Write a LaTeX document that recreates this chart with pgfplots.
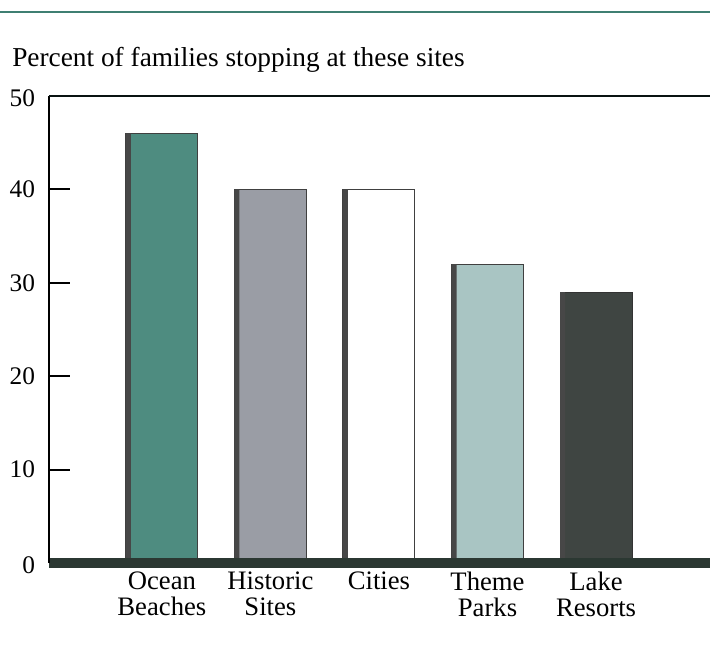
\documentclass[border=0pt]{standalone}
\usepackage{fontspec}
\setmainfont{Liberation Serif}
\usepackage{pgfplots}
\pgfplotsset{compat=1.18}
\definecolor{topteal}{HTML}{3F7F72}
\definecolor{ocean}{HTML}{4E8C80}
\definecolor{historic}{HTML}{9A9DA5}
\definecolor{cities}{HTML}{FFFFFF}
\definecolor{theme}{HTML}{A9C5C3}
\definecolor{lake}{HTML}{3F4542}
\definecolor{band}{HTML}{2B3832}
\begin{document}
\begin{tikzpicture}
\useasboundingbox (0,0) rectangle (532.5pt,-483.75pt);
\draw[topteal, line width=1.6pt] (0,-9pt) -- (532.5pt,-9pt);
\node[anchor=west, inner sep=0pt, font=\fontsize{20.5}{22}\selectfont] at (9pt,-45pt) {Percent of families stopping at these sites};
\begin{axis}[
  at={(36.75pt,-422.25pt)}, anchor=south west,
  scale only axis, width=495.75pt, height=350.25pt,
  xmin=-1.04, xmax=5.05, ymin=0, ymax=50,
  clip=false,
  axis line style={draw=none},
  ytick={10,20,30,40}, extra y ticks={0,50},
  extra y tick style={major tick length=0pt, yticklabel style={yshift=-2pt}},
  ytick pos=left, xtick pos=bottom,
  tick align=inside,
  y tick style={black, line width=1.5pt},
  major tick length=15.75pt,
  xtick={0,1,2,3,4},
  xticklabels={{Ocean\\Beaches},{Historic\\Sites},{Cities},{Theme\\Parks},{Lake\\Resorts}},
  x tick style={draw=none},
  xticklabel style={align=center, font=\fontsize{20}{19.5}\selectfont, yshift=-3pt, anchor=north},
  yticklabel style={font=\fontsize{19}{20}\selectfont, xshift=-7pt},
  /pgf/number format/assume math mode=true,
]
\addplot[ybar, bar width=54pt, bar shift=0pt, fill=ocean, draw=black!75, line width=0.7pt] coordinates {(0,46)};
\addplot[ybar, bar width=54pt, bar shift=0pt, fill=historic, draw=black!75, line width=0.7pt] coordinates {(1,40)};
\addplot[ybar, bar width=54pt, bar shift=0pt, fill=cities, draw=black!75, line width=0.7pt] coordinates {(2,40)};
\addplot[ybar, bar width=54pt, bar shift=0pt, fill=theme, draw=black!75, line width=0.7pt] coordinates {(3,32)};
\addplot[ybar, bar width=54pt, bar shift=0pt, fill=lake, draw=black!80, line width=0.7pt] coordinates {(4,29)};
\addplot[ybar, bar width=3.75pt, bar shift=-25.1pt, fill=black!72, draw=none] coordinates {(0,46) (1,40) (2,40) (3,32) (4,29)};
\draw[band, line width=7.5pt] (rel axis cs:0,0) -- (rel axis cs:1,0);
\draw[black, line width=1.5pt] (rel axis cs:0,0) -- (rel axis cs:0,1);
\draw[black!85!topteal, line width=2pt] (rel axis cs:0,1) -- (rel axis cs:1,1);
\end{axis}
\end{tikzpicture}
\end{document}
